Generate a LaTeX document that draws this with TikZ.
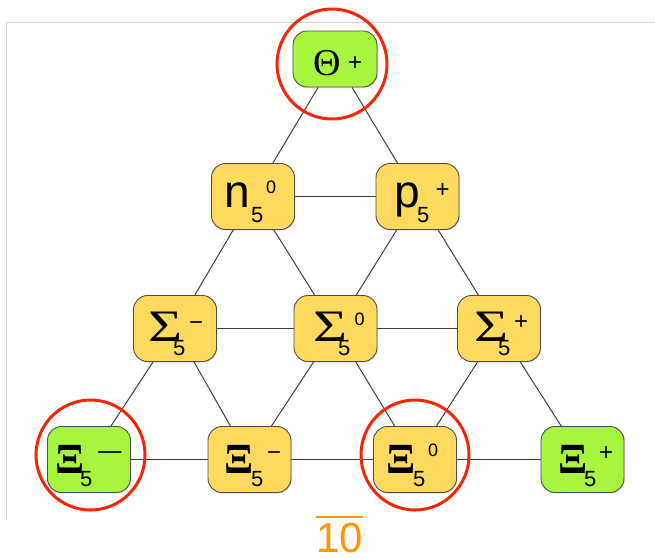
\documentclass[tikz,border=0pt]{standalone}
\usepackage{fontspec}
\setmainfont{Liberation Sans}
\newfontfamily\greekf{Liberation Serif}
\usetikzlibrary{shadows}
\definecolor{boxyellow}{RGB}{255,218,95}
\definecolor{boxgreen}{RGB}{168,245,64}
\definecolor{ringred}{RGB}{245,38,8}
\definecolor{tenorange}{RGB}{255,150,0}
\definecolor{framegray}{RGB}{215,215,215}
\newcommand{\pc}[3]{\makebox[0pt][l]{\kern#1\raisebox{#2}{#3}}}
\newcommand{\mainf}{\fontsize{46}{46}\selectfont}
\newcommand{\grf}{\greekf\fontsize{45}{45}\selectfont}
\newcommand{\xif}{\greekf\bfseries\fontsize{43}{43}\selectfont}
\newcommand{\subf}{\fontsize{22}{22}\selectfont}
\newcommand{\supf}{\fontsize{18}{18}\selectfont}
\newcommand{\sgnf}{\fontsize{24}{24}\selectfont}
\newcommand{\Sig}{\scalebox{1.3}[1]{Σ}}
\tikzset{
  hbox/.style={rectangle, rounded corners=14pt, draw=black!70, line width=0.9pt,
    minimum width=83pt, minimum height=66pt, inner sep=0pt,
    text height=0pt, text depth=0pt,
    drop shadow={opacity=0.25, shadow xshift=0.8pt, shadow yshift=-1pt}},
  ybox/.style={hbox, fill=boxyellow},
  gbox/.style={hbox, fill=boxgreen},
  link/.style={draw=black!75, line width=1pt},
  ring/.style={draw=ringred, line width=3pt},
  framel/.style={draw=framegray, line width=1pt},
  tenlabel/.style={text=tenorange, inner sep=0pt, text height=30pt, text depth=0pt,
    font=\fontsize{42}{42}\selectfont}
}
\begin{document}
\begin{tikzpicture}[x=1pt,y=-1pt]
\useasboundingbox (0,0) rectangle (655,558);
\fill[white] (0,0) rectangle (655,558);
\draw[framel] (6,520) -- (6,22) -- (655,22);

\node[gbox, minimum width=84pt, minimum height=56pt] (T) at (335,59)
  {\pc{-22pt}{-16pt}{\greekf\fontsize{38}{38}\selectfont Θ}\pc{13pt}{-11pt}{\fontsize{24}{24}\selectfont +}};

\node[ybox] (n) at (253,196.5)
  {\pc{-29pt}{-10.5pt}{\mainf n}\pc{-2pt}{-25.5pt}{\subf 5}\pc{13pt}{3.5pt}{\supf 0}};
\node[ybox] (p) at (417.5,196.5)
  {\pc{-23.5pt}{-10.5pt}{\mainf p}\pc{-0.5pt}{-25.5pt}{\subf 5}\pc{18pt}{-1pt}{\sgnf +}};

\node[ybox] (Sm) at (175,328.5)
  {\pc{-26.5pt}{-12.5pt}{\grf\Sig}\pc{-2pt}{-26.5pt}{\subf 5}\pc{14pt}{-2pt}{\sgnf −}};
\node[ybox] (S0) at (335.5,328.5)
  {\pc{-22pt}{-12.5pt}{\grf\Sig}\pc{2.5pt}{-26.5pt}{\subf 5}\pc{19pt}{3.5pt}{\supf 0}};
\node[ybox] (Sp) at (499,328.5)
  {\pc{-24.5pt}{-12.5pt}{\grf\Sig}\pc{-1pt}{-26.5pt}{\subf 5}\pc{15pt}{-1pt}{\sgnf +}};

\node[gbox] (Xmm) at (89,459.5)
  {\pc{-34pt}{-13.5pt}{\xif Ξ}\pc{-9pt}{-26.5pt}{\subf 5}\pc{8pt}{-0.5pt}{\sgnf −\kern-2.5pt−}};
\node[ybox] (Xm) at (249.5,459.5)
  {\pc{-25pt}{-13.5pt}{\xif Ξ}\pc{1.5pt}{-26.5pt}{\subf 5}\pc{17.5pt}{-0.5pt}{\sgnf −}};
\node[ybox] (X0) at (415,459.5)
  {\pc{-29pt}{-13.5pt}{\xif Ξ}\pc{-2pt}{-26.5pt}{\subf 5}\pc{13pt}{3pt}{\supf 0}};
\node[gbox] (Xp) at (582.5,459.5)
  {\pc{-24pt}{-13.5pt}{\xif Ξ}\pc{1.5pt}{-26.5pt}{\subf 5}\pc{16.5pt}{-0.5pt}{\sgnf +}};

\draw[link] (T) -- (n);
\draw[link] (T) -- (p);
\draw[link] (n) -- (p);
\draw[link] (n) -- (Sm);
\draw[link] (n) -- (S0);
\draw[link] (p) -- (S0);
\draw[link] (p) -- (Sp);
\draw[link] (Sm) -- (S0);
\draw[link] (S0) -- (Sp);
\draw[link] (Sm) -- (Xmm);
\draw[link] (Sm) -- (Xm);
\draw[link] (S0) -- (Xm);
\draw[link] (S0) -- (X0);
\draw[link] (Sp) -- (X0);
\draw[link] (Sp) -- (Xp);
\draw[link] (Xmm) -- (Xm);
\draw[link] (Xm) -- (X0);
\draw[link] (X0) -- (Xp);

\draw[ring] (332,64) ellipse [x radius=55pt, y radius=55pt];
\draw[ring] (90.5,455) ellipse [x radius=54.5pt, y radius=55pt];
\draw[ring] (415,455) ellipse [x radius=54pt, y radius=55pt];

\node[tenlabel] (ten) at (339.5,537) {10};
\draw[draw=tenorange, line width=2pt] ([yshift=5pt]ten.north west) -- ([yshift=5pt]ten.north east);
\end{tikzpicture}
\end{document}
